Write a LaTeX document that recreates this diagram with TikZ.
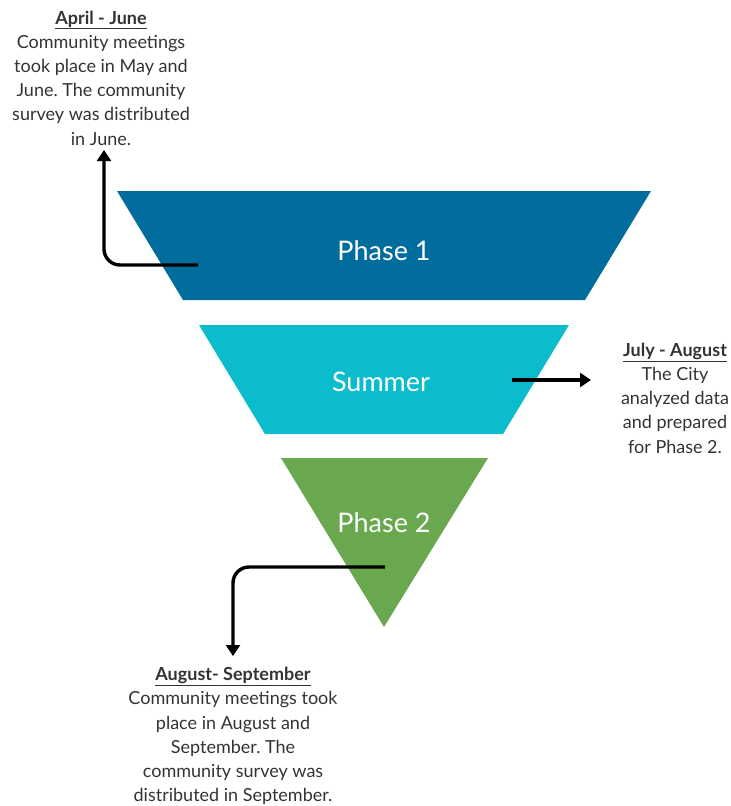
\documentclass[tikz,border=0pt]{standalone}
\usepackage{fontspec}
\setmainfont{Lato}
\usepackage{tikz}
\usetikzlibrary{arrows.meta}
\usetikzlibrary{calc}
\frenchspacing

\definecolor{phaseblue}{RGB}{0,109,157}
\definecolor{summercyan}{RGB}{10,188,204}
\definecolor{phasegreen}{RGB}{106,168,79}
\definecolor{textgray}{RGB}{51,51,51}

\tikzset{
	stagelabel/.style={text=white, font=\fontsize{27}{30}\selectfont, inner sep=0},
	notetext/.style={text=textgray, align=center, inner sep=0, font=\fontsize{18}{24.2}\selectfont},
	flow/.style={line width=3.4pt, rounded corners=16pt, -{Triangle[length=11pt,width=14pt]}}
}

\begin{document}
\begin{tikzpicture}[x=1pt,y=-1pt]
		\useasboundingbox (0,0) rectangle (731,806);
		% funnel
		\fill[phaseblue] (117,191) -- (651,191) -- (585,300) -- (183,300) -- cycle;
		\fill[summercyan] (199,325) -- (569,325) -- (503,434) -- (265,434) -- cycle;
		\fill[phasegreen] (281,458) -- (488,458) -- (384,627) -- cycle;
		\node[stagelabel] (phaseone) at (384,251) {Phase 1};
		\node[stagelabel] (summer) at (381,382) {Summer};
		\node[stagelabel] (phasetwo) at (384,523) {Phase 2};
		% notes
		\node[notetext] (aprjune) at (101,78) {\underline{\textbf{April - June}}\\Community meetings\\took place in May and\\June. The community\\survey was distributed\\in June.};
		\node[notetext] (julaug) at (675,398) {\underline{\textbf{July - August}}\\The City\\analyzed data\\and prepared\\for Phase 2.};
		\node[notetext] (augsep) at (233,736) {\underline{\textbf{August- September}}\\Community meetings took\\place in August and\\September. The\\community survey was\\distributed in September.};
		% arrows
		\coordinate (p1start) at (198,265);
		\coordinate (p1tip) at (104,150);
		\coordinate (sumstart) at (512,380);
		\coordinate (sumtip) at (591,380);
		\coordinate (p2start) at (385,567);
		\coordinate (p2tip) at (233,656);
		\draw[flow] (p1start) -| (p1tip);
		\draw[flow] (sumstart) -- (sumtip);
		\draw[flow] (p2start) -| (p2tip);
	\end{tikzpicture}
\end{document}
